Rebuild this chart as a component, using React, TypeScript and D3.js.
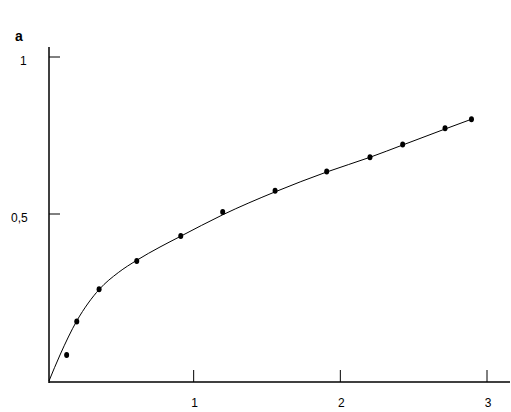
import React from "react";
import * as d3 from "d3";

const curveX = [0.0136, 0.0886, 0.2025, 0.2816, 0.3566, 0.4861, 0.6116, 0.7705, 0.9068, 1.198, 1.5545, 1.907, 2.202, 2.425, 2.714, 2.891];
const curveY = [-0.0318, 0.051, 0.1592, 0.2166, 0.2602, 0.3134, 0.3525, 0.3949, 0.428, 0.4975, 0.5704, 0.6338, 0.6806, 0.7197, 0.7707, 0.8013];

const pointX = [0.134, 0.203, 0.355, 0.612, 0.912, 1.198, 1.555, 1.907, 2.202, 2.425, 2.714, 2.894];
const pointY = [0.051, 0.158, 0.26, 0.35, 0.43, 0.506, 0.574, 0.635, 0.681, 0.721, 0.773, 0.802];

const xTicks = [1, 2, 3];
const xTickLabels = ["1", "2", "3"];
const yTicks = [0.5, 1];
const yTickLabels = ["0,5", "1"];
const yLabel = "a";

export default function App() {
  const W = 511, H = 412;
  const x = d3.scaleLinear().domain([0, 3]).range([47, 487]);
  const y = d3.scaleLinear().domain([0, 1]).range([371, 57]);
  const axisX = 49;
  const axisY = 382;
  const font = "'Liberation Sans', Arial, sans-serif";

  const line = d3
    .line<number>()
    .x((_, i) => x(curveX[i]))
    .y((d) => y(d))
    .curve(d3.curveMonotoneX);

  return (
    <svg width={W} height={H} style={{ position: "absolute", left: 0, top: 0, background: "#fff" }}>
      <rect width={W} height={H} fill="#fff" />
      <line x1={axisX} y1={47} x2={axisX} y2={axisY + 1} stroke="#000" strokeWidth={1.5} />
      <line x1={axisX} y1={axisY} x2={510} y2={axisY} stroke="#000" strokeWidth={1.5} />
      {yTicks.map((t, i) => (
        <g key={"yt" + i}>
          <line x1={axisX} x2={axisX + 11} y1={y(t)} y2={y(t)} stroke="#000" strokeWidth={1} />
          <text x={i === 0 ? 11 : 20} y={y(t) + 8} fontFamily={font} fontSize={12} fill="#000">
            {yTickLabels[i]}
          </text>
        </g>
      ))}
      {xTicks.map((t, i) => (
        <g key={"xt" + i}>
          <line x1={x(t)} x2={x(t)} y1={axisY} y2={axisY - 12} stroke="#000" strokeWidth={1} />
          <text x={x(t) + 1} y={407} textAnchor="middle" fontFamily={font} fontSize={12} fill="#000">
            {xTickLabels[i]}
          </text>
        </g>
      ))}
      <text x={15} y={41} fontFamily={font} fontSize={14} fontWeight="bold" fill="#000">
        {yLabel}
      </text>
      <path d={line(curveY) || ""} fill="none" stroke="#000" strokeWidth={1} />
      {pointX.map((px, i) => (
        <ellipse key={"p" + i} cx={x(px)} cy={y(pointY[i])} rx={2.5} ry={3} fill="#000" />
      ))}
    </svg>
  );
}
